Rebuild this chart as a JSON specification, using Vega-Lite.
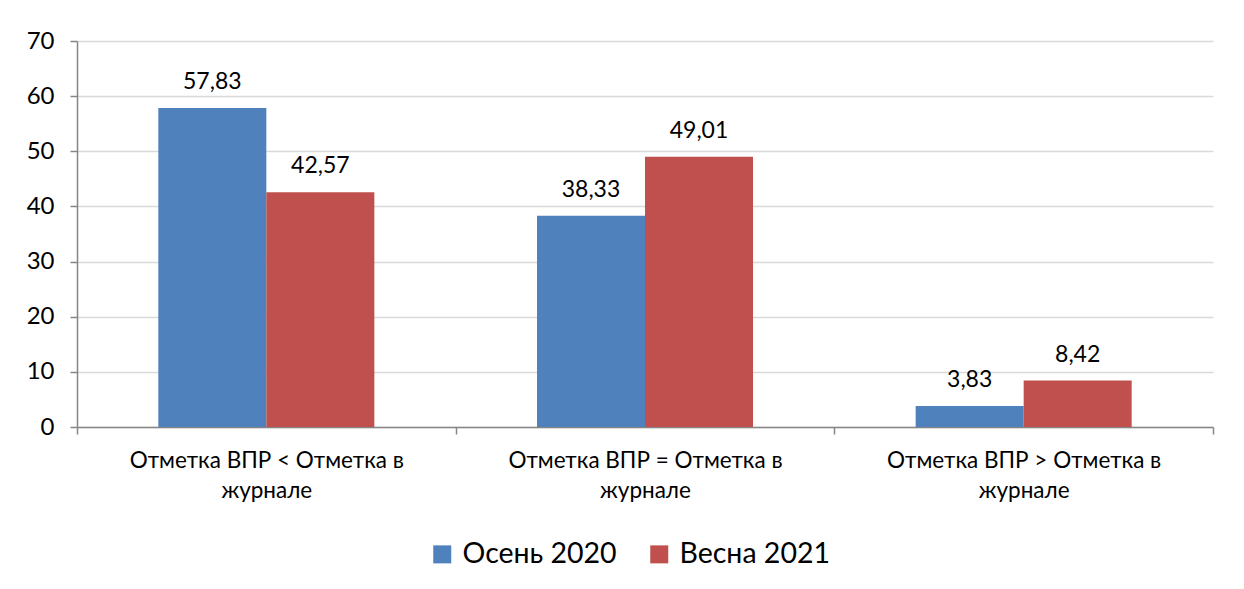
{
  "$schema": "https://vega.github.io/schema/vega-lite/v6.json",
  "width": 1136,
  "height": 386,
  "autosize": {"type": "none"},
  "padding": {"left": 77, "top": 41, "right": 31, "bottom": 162},
  "background": "white",
  "config": {
    "locale": {"number": {"decimal": ",", "thousands": " ", "grouping": [3], "currency": ["", ""]}},
    "view": {"stroke": null},
    "font": "Lato"
  },
  "data": {
    "values": [
      {"category": "Отметка ВПР < Отметка в журнале", "series": "Осень 2020", "value": 57.83},
      {"category": "Отметка ВПР < Отметка в журнале", "series": "Весна 2021", "value": 42.57},
      {"category": "Отметка ВПР = Отметка в журнале", "series": "Осень 2020", "value": 38.33},
      {"category": "Отметка ВПР = Отметка в журнале", "series": "Весна 2021", "value": 49.01},
      {"category": "Отметка ВПР > Отметка в журнале", "series": "Осень 2020", "value": 3.83},
      {"category": "Отметка ВПР > Отметка в журнале", "series": "Весна 2021", "value": 8.42}
    ]
  },
  "encoding": {
    "x": {
      "field": "category",
      "type": "nominal",
      "sort": ["Отметка ВПР < Отметка в журнале", "Отметка ВПР = Отметка в журнале", "Отметка ВПР > Отметка в журнале"],
      "scale": {"paddingInner": 0, "paddingOuter": 0},
      "axis": {
        "title": null,
        "labelAngle": 0,
        "labelExpr": "datum.label ? [replace(datum.label, ' журнале', ''), 'журнале'] : ''",
        "labelFontSize": 22.5,
        "labelColor": "#000000",
        "labelLimit": 500,
        "labelLineHeight": 30,
        "labelBaseline": "top",
        "labelPadding": 15,
        "tickBand": "extent",
        "tickSize": 7,
        "tickColor": "#868686",
        "domainColor": "#868686",
        "domainWidth": 1.5,
        "tickWidth": 1.5,
        "grid": false
      }
    },
    "xOffset": {
      "field": "series",
      "type": "nominal",
      "sort": ["Осень 2020", "Весна 2021"],
      "scale": {"paddingInner": 0, "paddingOuter": 0.753}
    },
    "y": {
      "field": "value",
      "type": "quantitative",
      "scale": {"domain": [0, 70], "nice": false},
      "axis": {
        "title": null,
        "values": [0, 10, 20, 30, 40, 50, 60, 70],
        "labelFontSize": 24,
        "labelColor": "#000000",
        "labelPadding": 16,
        "tickSize": 7,
        "tickColor": "#868686",
        "domainColor": "#868686",
        "domainWidth": 1.5,
        "tickWidth": 1.5,
        "gridColor": "#d9d9d9",
        "gridWidth": 1.5
      }
    }
  },
  "layer": [
    {
      "mark": {"type": "bar"},
      "encoding": {
        "color": {
          "field": "series",
          "type": "nominal",
          "sort": ["Осень 2020", "Весна 2021"],
          "scale": {"domain": ["Осень 2020", "Весна 2021"], "range": ["#4f81bd", "#c0504d"]},
          "legend": {
            "title": null,
            "orient": "none",
            "direction": "horizontal",
            "legendX": 351,
            "legendY": 499,
            "symbolType": "square",
            "symbolSize": 324,
            "symbolStrokeWidth": 0,
            "symbolOpacity": 1,
            "labelFontSize": 28.5,
            "labelColor": "#000000",
            "labelOffset": 6,
            "columnPadding": 28,
            "labelLimit": 300
          }
        }
      }
    },
    {
      "mark": {"type": "text", "baseline": "alphabetic", "dy": -19, "fontSize": 23, "color": "#000000"},
      "encoding": {
        "text": {"field": "value", "type": "quantitative", "format": ".2f"}
      }
    }
  ]
}
